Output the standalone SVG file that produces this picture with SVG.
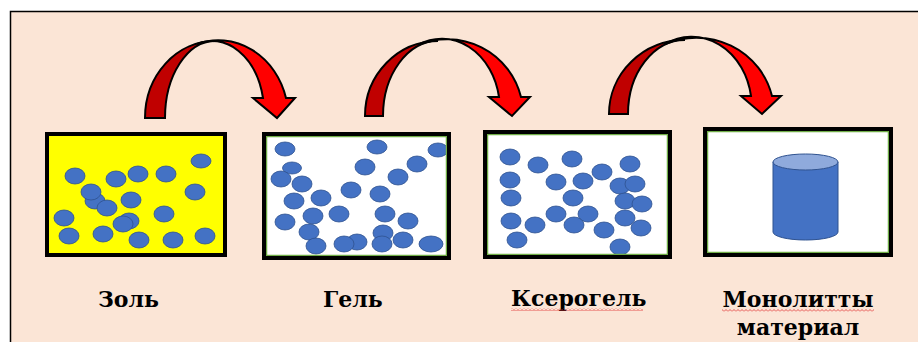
<svg xmlns="http://www.w3.org/2000/svg" width="918" height="342" viewBox="0 0 918 342">
  <style>
    .dot { fill: #4472C4; stroke: #2F528F; stroke-width: 0.8; }
    .frame { fill: none; stroke: #000; stroke-width: 4; }
    .inner { fill: none; stroke: #70AD47; stroke-width: 1.5; }
    .label { font-family: "DejaVu Serif", "Liberation Serif", serif; font-weight: bold; font-size: 22px; fill: #000; }
    .back { fill: #C00000; stroke: #000; stroke-width: 2; stroke-linejoin: miter; }
    .front { fill: #FF0000; stroke: #000; stroke-width: 2; stroke-linejoin: miter; }
  </style>
  <defs>
    <!-- spell-check wave under words -->
    <pattern id="wave" width="4" height="3" patternUnits="userSpaceOnUse">
      <path d="M0,2.5 L2,0.5 L4,2.5" fill="none" stroke="#E03030" stroke-width="0.8"/>
    </pattern>
  </defs>

  <!-- slide background -->
  <rect x="0" y="0" width="918" height="342" fill="#FFFFFF"/>
  <rect x="10.5" y="11.5" width="908" height="331" fill="#FBE5D6"/>
  <path d="M10.5,342 L10.5,11.5 L918,11.5" fill="none" stroke="#000" stroke-width="1.5"/>

  <!-- curved transition arrows -->
  <g id="connectors">
    <g id="arrow-1">
      <path class="back" d="M145,118 A70,77 0 0 1 215,41 A50,77 0 0 0 165,118 Z"/>
      <path class="front" d="M197,44 A70,77 0 0 1 286,98 L295,98 L277,118 L253,98 L263,98 A52,72 0 0 0 197,44 Z"/>
    </g>
    <g id="arrow-2">
      <path class="back" d="M365,116 A73,75 0 0 1 438,41 A55,75 0 0 0 383,116 Z"/>
      <path class="front" d="M418,45 A76,76 0 0 1 521,97 L530,97 L512,116 L489,97 L499,97 A58,70 0 0 0 418,45 Z"/>
    </g>
    <g id="arrow-3">
      <path class="back" d="M609,114 A76,74 0 0 1 685,40 A57,74 0 0 0 628,114 Z"/>
      <path class="front" d="M665,44 A78,76 0 0 1 772,96 L781,96 L762,114 L741,96 L751,96 A60,70 0 0 0 665,44 Z"/>
    </g>
  </g>

  <!-- Sol: yellow panel with scattered particles -->
  <g id="node-sol">
    <rect x="47" y="134" width="178" height="121" fill="#FFFF00"/>
    <ellipse class="dot" cx="75" cy="176" rx="10" ry="8"/>
    <ellipse class="dot" cx="116" cy="179" rx="10" ry="8"/>
    <ellipse class="dot" cx="138" cy="174" rx="10" ry="8"/>
    <ellipse class="dot" cx="166" cy="174" rx="10" ry="8"/>
    <ellipse class="dot" cx="201" cy="161" rx="10" ry="7"/>
    <ellipse class="dot" cx="95" cy="201" rx="10" ry="8"/>
    <ellipse class="dot" cx="91" cy="192" rx="10" ry="8"/>
    <ellipse class="dot" cx="131" cy="200" rx="10" ry="8"/>
    <ellipse class="dot" cx="107" cy="208" rx="10" ry="8"/>
    <ellipse class="dot" cx="195" cy="192" rx="10" ry="8"/>
    <ellipse class="dot" cx="64" cy="218" rx="10" ry="8"/>
    <ellipse class="dot" cx="129" cy="221" rx="10" ry="8"/>
    <ellipse class="dot" cx="123" cy="224" rx="10" ry="8"/>
    <ellipse class="dot" cx="164" cy="214" rx="10" ry="8"/>
    <ellipse class="dot" cx="69" cy="236" rx="10" ry="8"/>
    <ellipse class="dot" cx="103" cy="234" rx="10" ry="8"/>
    <ellipse class="dot" cx="139" cy="240" rx="10" ry="8"/>
    <ellipse class="dot" cx="173" cy="240" rx="10" ry="8"/>
    <ellipse class="dot" cx="205" cy="236" rx="10" ry="8"/>
    <rect class="frame" x="47" y="134" width="178" height="121"/>
    <text class="label" x="98" y="307">Золь</text>
  </g>

  <!-- Gel -->
  <g id="node-gel">
    <rect x="264" y="134" width="185" height="124" fill="#FFFFFF"/>
    <ellipse class="dot" cx="285" cy="149" rx="10" ry="7"/>
    <ellipse class="dot" cx="377" cy="147" rx="10" ry="7"/>
    <ellipse class="dot" cx="438" cy="150" rx="10" ry="7"/>
    <ellipse class="dot" cx="292" cy="168" rx="9.5" ry="6"/>
    <ellipse class="dot" cx="281" cy="179" rx="10" ry="8"/>
    <ellipse class="dot" cx="302" cy="184" rx="10" ry="8"/>
    <ellipse class="dot" cx="365" cy="167" rx="10" ry="8"/>
    <ellipse class="dot" cx="417" cy="164" rx="10" ry="8"/>
    <ellipse class="dot" cx="398" cy="177" rx="10" ry="8"/>
    <ellipse class="dot" cx="351" cy="190" rx="10" ry="8"/>
    <ellipse class="dot" cx="380" cy="194" rx="10" ry="8"/>
    <ellipse class="dot" cx="294" cy="201" rx="10" ry="8"/>
    <ellipse class="dot" cx="321" cy="198" rx="10" ry="8"/>
    <ellipse class="dot" cx="339" cy="214" rx="10" ry="8"/>
    <ellipse class="dot" cx="313" cy="216" rx="10" ry="8"/>
    <ellipse class="dot" cx="385" cy="214" rx="10" ry="8"/>
    <ellipse class="dot" cx="408" cy="221" rx="10" ry="8"/>
    <ellipse class="dot" cx="285" cy="222" rx="10" ry="8"/>
    <ellipse class="dot" cx="309" cy="232" rx="10" ry="8"/>
    <ellipse class="dot" cx="383" cy="233" rx="10" ry="8"/>
    <ellipse class="dot" cx="316" cy="246" rx="10" ry="8"/>
    <ellipse class="dot" cx="357" cy="242" rx="10" ry="8"/>
    <ellipse class="dot" cx="344" cy="244" rx="10" ry="8"/>
    <ellipse class="dot" cx="382" cy="244" rx="10" ry="8"/>
    <ellipse class="dot" cx="403" cy="240" rx="10" ry="8"/>
    <ellipse class="dot" cx="431" cy="244" rx="12" ry="8"/>
    <rect class="inner" x="266.5" y="136.5" width="180" height="119"/>
    <rect class="frame" x="264" y="134" width="185" height="124"/>
    <text class="label" x="323" y="307">Гель</text>
  </g>

  <!-- Xerogel -->
  <g id="node-xerogel">
    <rect x="485" y="132" width="185" height="125" fill="#FFFFFF"/>
    <ellipse class="dot" cx="510" cy="157" rx="10" ry="8"/>
    <ellipse class="dot" cx="538" cy="165" rx="10" ry="8"/>
    <ellipse class="dot" cx="572" cy="159" rx="10" ry="8"/>
    <ellipse class="dot" cx="630" cy="164" rx="10" ry="8"/>
    <ellipse class="dot" cx="510" cy="180" rx="10" ry="8"/>
    <ellipse class="dot" cx="556" cy="182" rx="10" ry="8"/>
    <ellipse class="dot" cx="583" cy="181" rx="10" ry="8"/>
    <ellipse class="dot" cx="602" cy="172" rx="10" ry="8"/>
    <ellipse class="dot" cx="620" cy="186" rx="10" ry="8"/>
    <ellipse class="dot" cx="635" cy="184" rx="10" ry="8"/>
    <ellipse class="dot" cx="511" cy="198" rx="10" ry="8"/>
    <ellipse class="dot" cx="573" cy="198" rx="10" ry="8"/>
    <ellipse class="dot" cx="625" cy="201" rx="10" ry="8"/>
    <ellipse class="dot" cx="642" cy="204" rx="10" ry="8"/>
    <ellipse class="dot" cx="511" cy="221" rx="10" ry="8"/>
    <ellipse class="dot" cx="535" cy="225" rx="10" ry="8"/>
    <ellipse class="dot" cx="556" cy="214" rx="10" ry="8"/>
    <ellipse class="dot" cx="588" cy="214" rx="10" ry="8"/>
    <ellipse class="dot" cx="574" cy="225" rx="10" ry="8"/>
    <ellipse class="dot" cx="625" cy="218" rx="10" ry="8"/>
    <ellipse class="dot" cx="641" cy="228" rx="10" ry="8"/>
    <ellipse class="dot" cx="604" cy="230" rx="10" ry="8"/>
    <ellipse class="dot" cx="517" cy="240" rx="10" ry="8"/>
    <ellipse class="dot" cx="620" cy="247" rx="10" ry="8"/>
    <rect class="inner" x="487.5" y="134.5" width="180" height="120"/>
    <rect class="frame" x="485" y="132" width="185" height="125"/>
    <text class="label" x="511" y="306">Ксерогель</text>
    <rect x="511" y="308" width="132" height="3" fill="url(#wave)"/>
  </g>

  <!-- Monolithic material -->
  <g id="node-monolith">
    <rect x="705" y="129" width="186" height="126" fill="#FFFFFF"/>
    <path d="M773,162 L773,232 A32.5,8 0 0 0 838,232 L838,162 Z" fill="#4472C4" stroke="#2F528F" stroke-width="1"/>
    <ellipse cx="805.5" cy="162" rx="32.5" ry="8" fill="#8FAADC" stroke="#2F528F" stroke-width="1"/>
    <rect class="inner" x="707.5" y="131.5" width="181" height="121"/>
    <rect class="frame" x="705" y="129" width="186" height="126"/>
    <text class="label" x="798" y="307" text-anchor="middle">Монолитты</text>
    <rect x="722" y="309" width="152" height="3" fill="url(#wave)"/>
    <text class="label" x="798" y="335" text-anchor="middle">материал</text>
  </g>
</svg>
